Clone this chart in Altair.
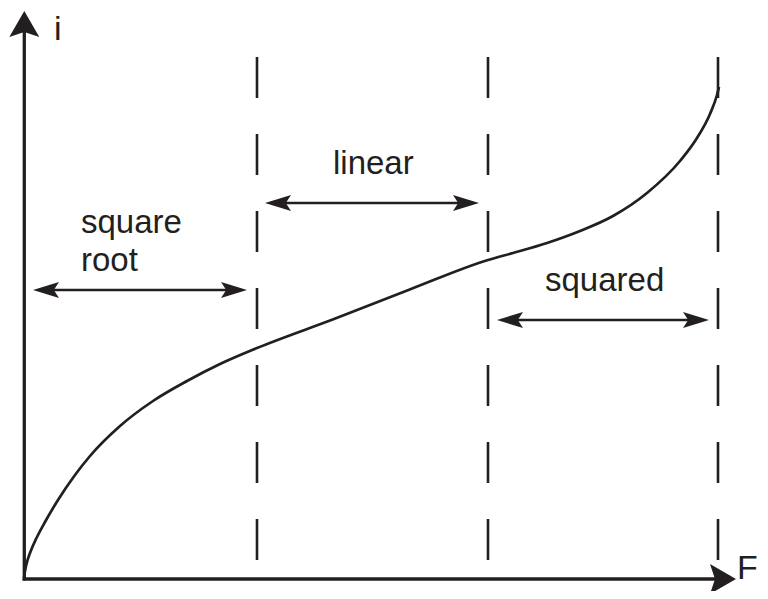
import altair as alt
import pandas as pd

INK = "#231f20"
FONT = "Liberation Sans"

# Characteristic curve i(F) (origin at the axes corner)
curve_F = [0, 2, 6, 13, 21, 34, 51, 66, 96, 129, 163, 196, 233, 310, 387, 464, 489, 523, 556, 589, 623, 656, 673, 686, 693, 695]
curve_i = [0, 11, 24, 40, 55, 77, 102, 121, 151, 176, 196, 213, 229, 258, 288, 317, 324, 334, 346, 361, 384, 416, 439, 463, 482, 490]

# Region boundaries (dashed verticals)
boundary_F = [233, 464, 694]
boundary_top = [520, 520, 520]
boundary_bottom = [16, 16, 16]

# Double-headed range arrows
range_names = ["square root", "linear", "squared"]
range_from = [9, 241, 473]
range_to = [223, 455, 685]
range_level = [287, 374, 257]

# Region labels
label_text = ["square", "root", "linear", "squared"]
label_F = [57, 57, 309, 521]
label_i = [344, 306, 403, 286]

# Axis names and arrow tips
axis_text = ["i", "F"]
axis_text_F = [30, 713]
axis_text_i = [537, -2]
axis_tip_F = [0.3, 712]
axis_tip_i = [566, -2]

XS = alt.Scale(domain=[-16, 736], nice=False, zero=False)
YS = alt.Scale(domain=[-14, 569], nice=False, zero=False)


def X(f):
    return alt.X(f, type="quantitative", scale=XS, axis=None)


def Y(f):
    return alt.Y(f, type="quantitative", scale=YS, axis=None)


curve_df = pd.DataFrame({"F": curve_F, "i": curve_i})
bound_df = pd.DataFrame({"F": boundary_F, "top": boundary_top, "bot": boundary_bottom})
range_df = pd.DataFrame({"name": range_names, "a": range_from, "b": range_to, "lvl": range_level})
range_df["a_in"] = range_df["a"] + 12
range_df["b_in"] = range_df["b"] - 12
heads_df = pd.concat([
    pd.DataFrame({"F": range_from, "i": range_level, "angle": [270] * 3}),
    pd.DataFrame({"F": range_to, "i": range_level, "angle": [90] * 3}),
])
label_df = pd.DataFrame({"t": label_text, "F": label_F, "i": label_i})
axis_df = pd.DataFrame({"t": axis_text, "F": axis_text_F, "i": axis_text_i})
axis_head_df = pd.DataFrame({"F": axis_tip_F, "i": axis_tip_i, "angle": [0, 90]})

x_axis_df = pd.DataFrame({"F": [-1.4], "Fend": [axis_tip_F[1] - 14], "i": [axis_tip_i[1]]})
y_axis_df = pd.DataFrame({"F": [axis_tip_F[0]], "i": [-3.6], "iend": [axis_tip_i[0] - 14]})

x_axis = alt.Chart(x_axis_df).mark_rule(color=INK, strokeWidth=3.3, strokeCap="butt").encode(
    x=X("F"), x2="Fend", y=Y("i")
)
y_axis = alt.Chart(y_axis_df).mark_rule(color=INK, strokeWidth=3.3, strokeCap="butt").encode(
    x=X("F"), y=Y("i"), y2="iend"
)

axis_heads = alt.Chart(axis_head_df).mark_point(
    shape="M0,0L1.154,2L0,1.615L-1.154,2Z", size=676, filled=True, opacity=1, color=INK, strokeWidth=0
).encode(x=X("F"), y=Y("i"), angle=alt.Angle("angle:Q", scale=None))

dashes = alt.Chart(bound_df).mark_rule(color=INK, strokeWidth=2.6, strokeDash=[41, 36], strokeCap="butt").encode(
    x=X("F"), y=Y("top"), y2="bot"
)

curve = alt.Chart(curve_df).mark_line(color=INK, strokeWidth=2.7, interpolate="monotone").encode(
    x=X("F"), y=Y("i")
)

range_lines = alt.Chart(range_df).mark_rule(color=INK, strokeWidth=2.3).encode(
    x=X("a_in"), x2="b_in", y=Y("lvl")
)

range_heads = alt.Chart(heads_df).mark_point(
    shape="M0,0L0.615,2L0,1.6L-0.615,2Z", size=676, filled=True, opacity=1, color=INK, strokeWidth=0
).encode(x=X("F"), y=Y("i"), angle=alt.Angle("angle:Q", scale=None))

labels = alt.Chart(label_df).mark_text(
    font=FONT, fontSize=33, color=INK, align="left", baseline="alphabetic"
).encode(x=X("F"), y=Y("i"), text="t:N")

axis_labels = alt.Chart(axis_df).mark_text(
    font=FONT, fontSize=34, color=INK, align="left", baseline="alphabetic"
).encode(x=X("F"), y=Y("i"), text="t:N")

chart = alt.layer(
    dashes, curve, range_lines, range_heads, x_axis, y_axis, axis_heads, labels, axis_labels
).properties(
    width=752, height=583, padding=0, autosize=alt.AutoSizeParams(type="none")
).configure_view(stroke=None)

chart.save("out.html", embed_options={"renderer": "svg", "actions": False})
